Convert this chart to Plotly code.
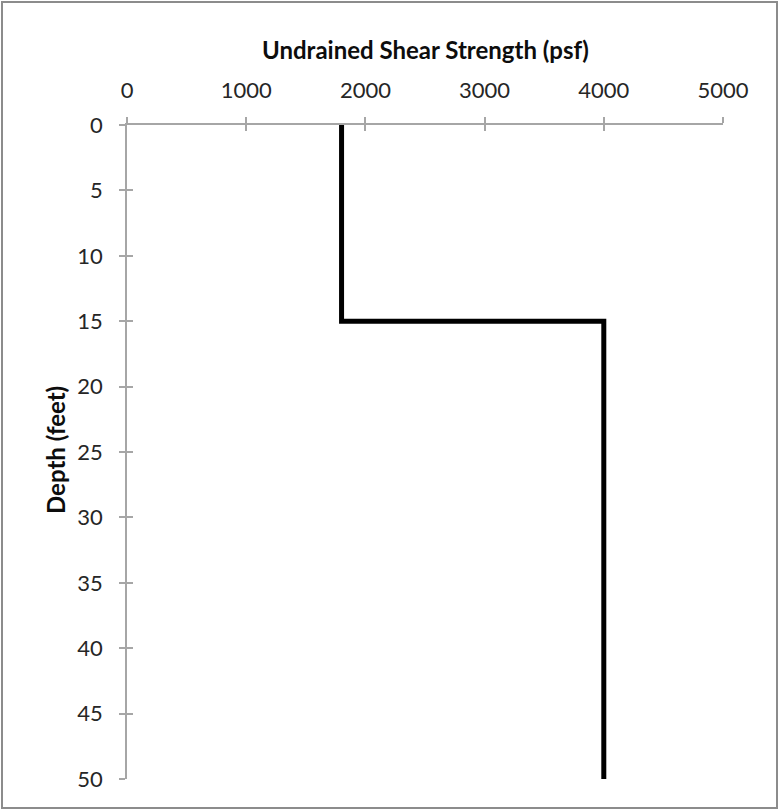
import plotly.graph_objects as go

# Data
strength_psf = [1800, 1800, 4000, 4000]
depth_ft = [0, 15, 15, 50]
x_ticks = [0, 1000, 2000, 3000, 4000, 5000]
y_ticks = [0, 5, 10, 15, 20, 25, 30, 35, 40, 45, 50]

W, H = 779, 811
L, R, T, B = 127, 56, 125, 32
pw, ph = W - L - R, H - T - B

def px_x(px):
    return (px - L) / pw

def px_y(py):
    return (H - B - py) / ph

font = dict(family="Lato, Carlito, Calibri, sans-serif", size=22, color="#262626")
title_font = dict(family="Lato, Carlito, Calibri, sans-serif", size=24, color="#0d0d0d")
axis_col = "#a6a6a6"

fig = go.Figure()
fig.add_trace(go.Scatter(x=strength_psf, y=depth_ft, mode="lines",
                         line=dict(color="black", width=5), showlegend=False,
                         hoverinfo="skip"))
# invisible trace for overlay axes (cross-style ticks)
fig.add_trace(go.Scatter(x=[None], y=[None], xaxis="x2", yaxis="y2", showlegend=False))

common = dict(showgrid=False, zeroline=False, showline=True, linecolor=axis_col,
              linewidth=1.5, tickcolor=axis_col, tickwidth=1.5, ticklen=6)

fig.update_layout(
    width=W, height=H,
    margin=dict(l=L, r=R, t=T, b=B),
    plot_bgcolor="white", paper_bgcolor="white",
    font=font,
    xaxis=dict(range=[0, 5000], side="top", tickvals=x_ticks, ticks="outside",
               ticklabelstandoff=10, **common),
    yaxis=dict(range=[50, 0], tickvals=y_ticks, ticks="outside",
               ticklabelstandoff=12, **common),
    xaxis2=dict(range=[0, 5000], side="top", overlaying="x", tickvals=x_ticks,
                ticks="inside", showticklabels=False, **common),
    yaxis2=dict(range=[50, 0], overlaying="y", tickvals=y_ticks,
                ticks="inside", showticklabels=False, **common),
    annotations=[
        dict(text="<b>Undrained Shear Strength (psf)</b>", x=0.5, y=px_y(50),
             xref="paper", yref="paper", showarrow=False, xanchor="center",
             yanchor="middle", font=title_font),
        dict(text="<b>Depth (feet)</b>", x=px_x(55), y=px_y(450), textangle=-90,
             xref="paper", yref="paper", showarrow=False, xanchor="center",
             yanchor="middle", font=title_font),
    ],
    shapes=[dict(type="rect", xref="paper", yref="paper",
                 x0=px_x(2), x1=px_x(777), y0=px_y(808), y1=px_y(2),
                 line=dict(color="#8c8c8c", width=2), layer="below")],
)

fig.write_html("out.html", config={"displayModeBar": False},
               post_script="document.body.style.margin='0';")
